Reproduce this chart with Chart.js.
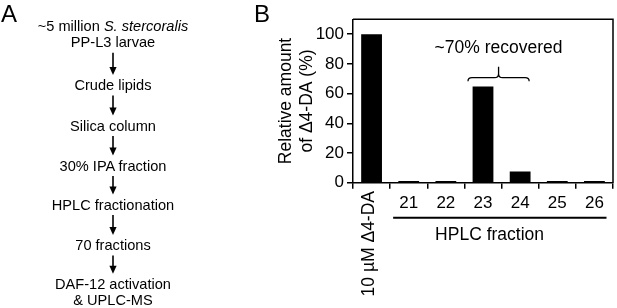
<!DOCTYPE html>
<html>
<head>
<meta charset="utf-8">
<script src="https://cdn.jsdelivr.net/npm/chart.js@4.4.0/dist/chart.umd.min.js"></script>
<style>
    html, body { margin: 0; padding: 0; background: #fff; }
    #wrap { position: relative; width: 617px; height: 308px; overflow: hidden; }
    #panelA { position: absolute; left: 0; top: 0; font-family: "Liberation Sans", Arial, sans-serif; }
    #chartB { position: absolute; left: 240px; top: 0; }
</style>
</head>
<body>
<div id="wrap">
    <canvas id="chartB" width="377" height="308"></canvas>
    <svg id="panelA" width="617" height="308"></svg>
</div>
<script>
// panel B data
var fractions = ['10 \u00b5M \u03944-DA', '21', '22', '23', '24', '25', '26'];
var relAmount = [100, 1.2, 1.2, 64.7, 7.5, 1.2, 1.2];
var yTickValues = [0, 20, 40, 60, 80, 100];
var yTitle = ['Relative amount', 'of \u03944-DA (%)'];
var groupLabel = 'HPLC fraction';
var bracketText = '~70% recovered';
var bracketFrom = '23';
var bracketTo = '24';

// panel A flow steps (italic part marked with *)
var flowSteps = [
    ['~5 million *S. stercoralis*', 'PP-L3 larvae'],
    ['Crude lipids'],
    ['Silica column'],
    ['30% IPA fraction'],
    ['HPLC fractionation'],
    ['70 fractions'],
    ['DAF-12 activation', '& UPLC-MS']
];

function esc(s) {
    return s.replace(/&/g, '&amp;').replace(/</g, '&lt;');
}

function drawPanelA() {
    var svg = document.getElementById('panelA');
    var baselines = [30.7, 90, 130.5, 170.5, 209.5, 250, 288.7];
    var lineGap = 16.5;
    var cx = 113;
    var html = '';
    html += '<text x="1" y="21.7" font-size="24">A</text>';
    html += '<text x="254" y="21.7" font-size="24">B</text>';
    flowSteps.forEach(function (lines, i) {
        lines.forEach(function (line, j) {
            var parts = esc(line).split('*');
            var inner = '';
            parts.forEach(function (p, k) {
                if (k % 2 == 1) inner += '<tspan font-style="italic">' + p + '</tspan>';
                else inner += p;
            });
            html += '<text x="' + cx + '" y="' + (baselines[i] + j * lineGap) + '" font-size="14.6" text-anchor="middle">' + inner + '</text>';
        });
        if (i < flowSteps.length - 1) {
            var top = baselines[i] + (lines.length - 1) * lineGap + 5.5;
            var tip = baselines[i + 1] - 15;
            html += '<line x1="' + cx + '" y1="' + top + '" x2="' + cx + '" y2="' + (tip - 6) + '" stroke="#000" stroke-width="1.6"/>';
            html += '<polygon points="' + (cx - 3.6) + ',' + (tip - 8) + ' ' + (cx + 3.6) + ',' + (tip - 8) + ' ' + cx + ',' + tip + '" fill="#000"/>';
        }
    });
    svg.innerHTML = html;
}
drawPanelA();

var extrasPlugin = {
    id: 'extras',
    afterDraw: function (chart) {
        var ctx = chart.ctx;
        var a = chart.chartArea;
        var xs = chart.scales.x;
        var ys = chart.scales.y;
        var catW = xs.getPixelForValue(1) - xs.getPixelForValue(0);
        ctx.save();
        ctx.strokeStyle = '#000';
        ctx.fillStyle = '#000';

        // box top + right
        ctx.lineWidth = 1.5;
        ctx.beginPath();
        ctx.moveTo(a.left, a.top);
        ctx.lineTo(a.right, a.top);
        ctx.lineTo(a.right, a.bottom);
        ctx.stroke();

        // rotated first category label
        ctx.save();
        ctx.font = '17.5px "Liberation Sans", Arial, sans-serif';
        ctx.translate(xs.getPixelForValue(0) - 2, a.bottom + 8.3);
        ctx.rotate(-Math.PI / 2);
        ctx.textAlign = 'right';
        ctx.textBaseline = 'middle';
        ctx.fillText(fractions[0], 0, 0);
        ctx.restore();

        // group line + label
        var gl = xs.getPixelForValue(1) - catW / 2 + 3;
        var gr = xs.getPixelForValue(fractions.length - 1) + catW / 2 - 6.5;
        ctx.lineWidth = 2;
        ctx.beginPath();
        ctx.moveTo(gl, a.bottom + 35);
        ctx.lineTo(gr, a.bottom + 35);
        ctx.stroke();
        ctx.font = '17.5px "Liberation Sans", Arial, sans-serif';
        ctx.textAlign = 'center';
        ctx.textBaseline = 'alphabetic';
        var mid = (xs.getPixelForValue(1) + xs.getPixelForValue(fractions.length - 1)) / 2;
        ctx.fillText(groupLabel, mid - 12, a.bottom + 57.3);

        // curly bracket over fractions
        var bl = xs.getPixelForValue(fractions.indexOf(bracketFrom)) - 15;
        var br = xs.getPixelForValue(fractions.indexOf(bracketTo)) + 9;
        var bm = (bl + br) / 2;
        var by = ys.getPixelForValue(70.7);
        ctx.lineWidth = 1.3;
        ctx.beginPath();
        ctx.moveTo(bl, by + 3.5);
        ctx.quadraticCurveTo(bl, by, bl + 4, by);
        ctx.lineTo(bm - 4, by);
        ctx.quadraticCurveTo(bm, by, bm, by - 4);
        ctx.lineTo(bm, by - 11);
        ctx.moveTo(bm, by - 4);
        ctx.quadraticCurveTo(bm, by, bm + 4, by);
        ctx.lineTo(br - 4, by);
        ctx.quadraticCurveTo(br, by, br, by + 3.5);
        ctx.stroke();
        ctx.fillText(bracketText, bm, by - 24.7);
        ctx.restore();
    }
};

Chart.defaults.font.family = '"Liberation Sans", Arial, sans-serif';
Chart.defaults.color = '#000';

var ctx = document.getElementById('chartB').getContext('2d');
var myChart = new Chart(ctx, {
    type: 'bar',
    data: {
        labels: fractions,
        datasets: [
            {
                label: 'Relative amount',
                data: relAmount,
                backgroundColor: '#000',
                borderWidth: 0,
                barPercentage: 0.56,
                categoryPercentage: 1
            }
        ]
    },
    options: {
        responsive: false,
        animation: false,
        devicePixelRatio: 1,
        layout: { padding: { left: 30, top: 19.3, right: 4, bottom: 0 } },
        plugins: {
            legend: { display: false },
            tooltip: { enabled: false }
        },
        scales: {
            x: {
                offset: true,
                grid: { offset: true, drawOnChartArea: false, tickLength: 6, color: '#000', lineWidth: 1.5 },
                border: { color: '#000', width: 1.5 },
                ticks: {
                    font: { size: 17 },
                    color: '#000',
                    padding: 4,
                    maxRotation: 0,
                    minRotation: 0,
                    autoSkip: false,
                    callback: function (v, i) { return i == 0 ? '' : fractions[i]; }
                },
                afterFit: function (s) { s.height = 125.3; }
            },
            y: {
                min: 0,
                max: 110,
                grid: { drawOnChartArea: false, tickLength: 6, color: '#000', lineWidth: 1.5 },
                border: { color: '#000', width: 1.5 },
                ticks: { font: { size: 17 }, color: '#000', padding: 3 },
                afterBuildTicks: function (s) {
                    s.ticks = yTickValues.map(function (v) { return { value: v }; });
                },
                title: {
                    display: true,
                    text: yTitle,
                    font: { size: 17.5, lineHeight: 1.2 },
                    color: '#000',
                    padding: { top: 5.5, bottom: 0 }
                },
                afterFit: function (s) { s.width = 83; }
            }
        }
    },
    plugins: [extrasPlugin]
});
</script>
</body>
</html>
